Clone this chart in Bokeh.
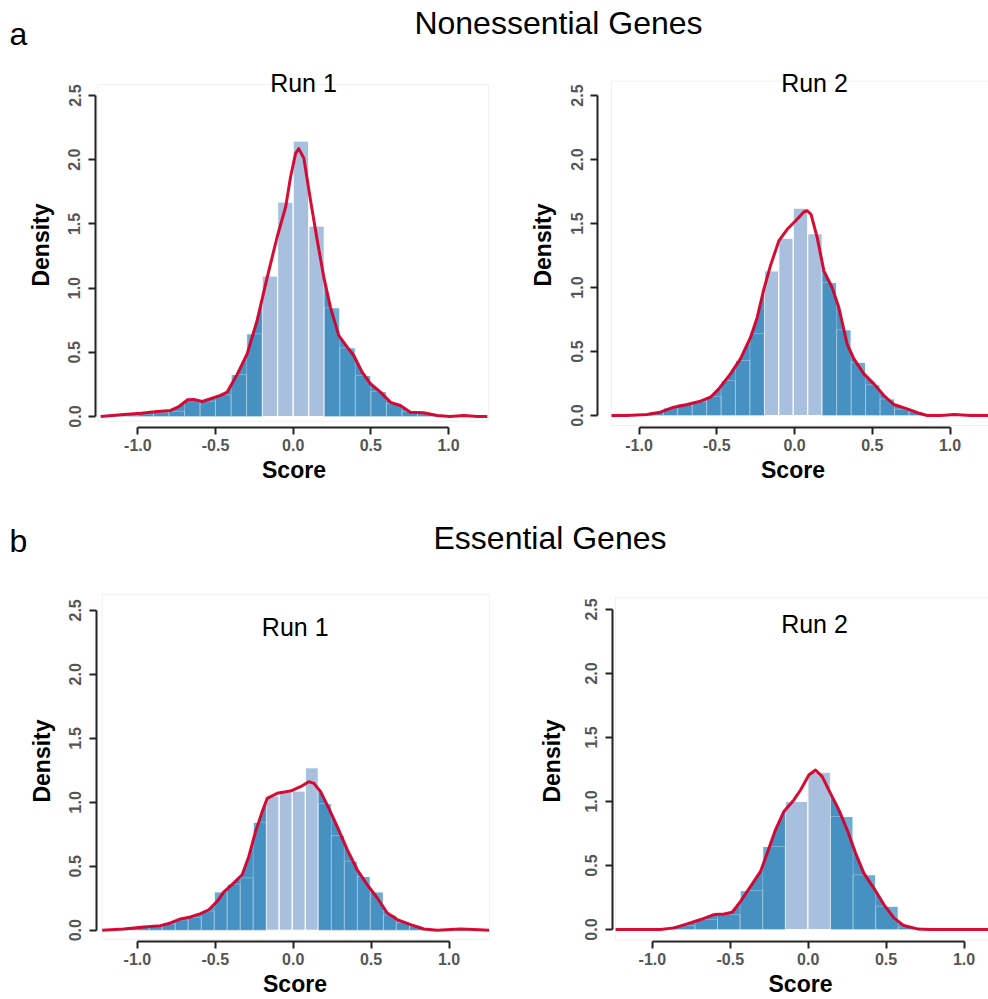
import numpy as np
from bokeh.plotting import figure
from bokeh.layouts import column, row
from bokeh.models import Range1d, FixedTicker, BoxAnnotation, Label, ColumnDataSource
from bokeh.embed import file_html
from bokeh.resources import INLINE

FONT = "Liberation Sans"

# ---------------- data ----------------
SECTION_A = "Nonessential Genes"
SECTION_B = "Essential Genes"
PANEL_TITLES = {"A1": "Run 1", "A2": "Run 2", "B1": "Run 1", "B2": "Run 2"}
X_LABEL = "Score"
Y_LABEL = "Density"
X_TICKS = [-1.0, -0.5, 0.0, 0.5, 1.0]
X_TICK_LABELS = ["-1.0", "-0.5", "0.0", "0.5", "1.0"]
Y_TICKS = [0.0, 0.5, 1.0, 1.5, 2.0, 2.5]
Y_TICK_LABELS = ["0.0", "0.5", "1.0", "1.5", "2.0", "2.5"]

# histogram bin edges and densities
A1_EDGES = [-1.2, -1.1, -1.0, -0.9, -0.8, -0.7, -0.6, -0.5, -0.4, -0.3, -0.2, -0.1,
            0.0, 0.1, 0.2, 0.3, 0.4, 0.5, 0.6, 0.7, 0.8, 0.9, 1.0]
A1_HEIGHTS = [0.005, 0.01, 0.02, 0.03, 0.04, 0.12, 0.12, 0.17, 0.327, 0.644, 1.094, 1.67,
              2.145, 1.483, 0.847, 0.535, 0.32, 0.195, 0.10, 0.04, 0.02, 0.01]
A1_LIGHT = (10, 13)

A2_EDGES = [-1.03, -0.937, -0.844, -0.751, -0.658, -0.565, -0.472, -0.38, -0.287, -0.194,
            -0.101, -0.008, 0.085, 0.178, 0.271, 0.364, 0.457, 0.55, 0.643, 0.736, 0.829]
A2_HEIGHTS = [0.01, 0.03, 0.06, 0.09, 0.11, 0.15, 0.273, 0.43, 0.64, 1.13, 1.385, 1.62,
              1.42, 1.04, 0.67, 0.416, 0.24, 0.13, 0.05, 0.03]
A2_LIGHT = (9, 12)

B1_EDGES = [-1.091, -1.008, -0.924, -0.841, -0.757, -0.674, -0.59, -0.507, -0.424, -0.34,
            -0.257, -0.173, -0.09, -0.006, 0.078, 0.161, 0.245, 0.328, 0.412, 0.495,
            0.579, 0.662, 0.746, 0.829, 0.913]
B1_HEIGHTS = [0.02, 0.03, 0.04, 0.05, 0.08, 0.10, 0.15, 0.30, 0.36, 0.41, 0.844, 1.049,
              1.075, 1.088, 1.27, 0.99, 0.74, 0.54, 0.42, 0.30, 0.12, 0.06, 0.03, 0.01]
B1_LIGHT = (11, 14)

B2_EDGES = [-1.017, -0.872, -0.727, -0.582, -0.437, -0.292, -0.147, -0.002, 0.143, 0.288,
            0.433, 0.578, 0.723, 0.868]
B2_HEIGHTS = [0.005, 0.03, 0.08, 0.117, 0.304, 0.649, 1.0, 1.228, 0.883, 0.428, 0.182,
              0.02, 0.005]
B2_LIGHT = (6, 7)

# density curves
A1_KDE_X = [-1.24, -1.09, -0.98, -0.876, -0.79, -0.736, -0.68, -0.64, -0.586, -0.532,
            -0.468, -0.425, -0.36, -0.296, -0.232, -0.167, -0.103, -0.049, -0.017, 0.015,
            0.036, 0.069, 0.112, 0.155, 0.197, 0.24, 0.294, 0.348, 0.39, 0.444, 0.498,
            0.562, 0.627, 0.69, 0.755, 0.84, 0.927, 1.01, 1.10, 1.185, 1.25]
A1_KDE_Y = [0.0, 0.016, 0.026, 0.039, 0.047, 0.078, 0.13, 0.132, 0.117, 0.138,
            0.164, 0.19, 0.33, 0.49, 0.75, 1.086, 1.40, 1.63, 1.865, 2.047,
            2.086, 2.01, 1.68, 1.37, 1.086, 0.85, 0.63, 0.54, 0.475, 0.345, 0.255,
            0.19, 0.11, 0.086, 0.034, 0.029, 0.008, 0.0, 0.008, 0.0, 0.0]

A2_KDE_X = [-1.178, -1.077, -0.948, -0.863, -0.777, -0.691, -0.605, -0.541, -0.487, -0.412,
            -0.348, -0.283, -0.24, -0.197, -0.155, -0.101, -0.047, 0.006, 0.06, 0.082,
            0.107, 0.146, 0.189, 0.242, 0.285, 0.339, 0.382, 0.446, 0.511, 0.575, 0.639,
            0.725, 0.80, 0.854, 0.94, 1.026, 1.133, 1.249]
A2_KDE_Y = [0.0, 0.0, 0.008, 0.026, 0.065, 0.086, 0.112, 0.143, 0.208, 0.325,
            0.442, 0.61, 0.766, 0.987, 1.169, 1.364, 1.455, 1.52, 1.59, 1.60,
            1.57, 1.39, 1.13, 1.0, 0.844, 0.558, 0.442, 0.325, 0.247, 0.156, 0.086,
            0.052, 0.018, 0.0, 0.0, 0.008, 0.0, 0.0]

B1_KDE_X = [-1.227, -1.088, -0.96, -0.852, -0.788, -0.724, -0.66, -0.595, -0.542, -0.488,
            -0.445, -0.381, -0.328, -0.285, -0.242, -0.199, -0.167, -0.103, -0.017, 0.047,
            0.10, 0.133, 0.176, 0.229, 0.283, 0.347, 0.411, 0.475, 0.54, 0.604, 0.668,
            0.754, 0.839, 0.925, 1.01, 1.075, 1.16, 1.257]
B1_KDE_Y = [0.0, 0.01, 0.026, 0.036, 0.057, 0.088, 0.104, 0.13, 0.16, 0.226,
            0.30, 0.37, 0.434, 0.577, 0.77, 0.927, 1.03, 1.07, 1.088, 1.122,
            1.161, 1.148, 1.083, 0.953, 0.81, 0.63, 0.473, 0.356, 0.252, 0.135, 0.083,
            0.044, 0.01, 0.0, 0.005, 0.01, 0.005, 0.0]

B2_KDE_X = [-1.237, -1.098, -0.948, -0.862, -0.777, -0.69, -0.605, -0.54, -0.488, -0.434,
            -0.37, -0.306, -0.263, -0.21, -0.156, -0.092, -0.049, 0.004, 0.047, 0.09,
            0.143, 0.197, 0.25, 0.304, 0.357, 0.421, 0.486, 0.55, 0.614, 0.70, 0.785,
            0.892, 0.978, 1.085, 1.157]
B2_KDE_Y = [0.0, 0.0, 0.0, 0.013, 0.044, 0.078, 0.117, 0.122, 0.135, 0.22,
            0.337, 0.454, 0.597, 0.779, 0.922, 1.012, 1.09, 1.207, 1.246, 1.194,
            1.064, 0.935, 0.779, 0.597, 0.441, 0.324, 0.195, 0.091, 0.031, 0.005, 0.0,
            0.0, 0.0, 0.0, 0.0]

# ---------------- styling / layout ----------------
LIGHT = "#a9bfde"
TAIL = "#6aaed6"
DARK = "#4690c2"
RED = "#d6002a"
AXIS = "#222222"

# page-pixel geometry: fig=(left, top, width, height); frame=(l, r, t, b);
# x0/y0: pixel of data 0; sx/sy: pixels per data unit; box=(l, r, t, b) light frame;
# title=(center x, vertical middle y); ylab = y-axis label standoff
GEOM = {
    "A1": dict(fig=(0, 62, 520, 438), frame=(95, 492, 62, 427), x0=292.7, sx=155.3,
               y0=416.0, sy=128.4, box=(97, 488, 84, 420.7), title=(303, 82.5), ylab=12),
    "A2": dict(fig=(520, 62, 468, 438), frame=(597, 988, 62, 427), x0=794.0, sx=155.5,
               y0=415.0, sy=128.0, box=(611, None, 80.7, 425), title=(814, 82.5), ylab=12),
    "B1": dict(fig=(0, 580, 520, 419), frame=(96, 493, 580, 942), x0=292.7, sx=155.8,
               y0=930.7, sy=128.3, box=(101.7, 489, 594, 940), title=(294.7, 627), ylab=12),
    "B2": dict(fig=(520, 580, 468, 419), frame=(612, 988, 580, 942), x0=807.7, sx=155.8,
               y0=930.0, sy=128.4, box=(615, None, 597.3, 940.7), title=(814, 624), ylab=18),
}

DATA = {
    "A1": (A1_EDGES, A1_HEIGHTS, A1_LIGHT, A1_KDE_X, A1_KDE_Y),
    "A2": (A2_EDGES, A2_HEIGHTS, A2_LIGHT, A2_KDE_X, A2_KDE_Y),
    "B1": (B1_EDGES, B1_HEIGHTS, B1_LIGHT, B1_KDE_X, B1_KDE_Y),
    "B2": (B2_EDGES, B2_HEIGHTS, B2_LIGHT, B2_KDE_X, B2_KDE_Y),
}


def make_panel(key):
    g = GEOM[key]
    edges, heights, light, kx, ky = DATA[key]
    fl, ft, fw, fh = g["fig"]
    l, r, t, b = g["frame"]
    x0, sx, y0, sy = g["x0"], g["sx"], g["y0"], g["sy"]
    px2x = lambda px: (px - x0) / sx
    py2y = lambda py: (y0 - py) / sy
    xs, xe = px2x(l), px2x(r)
    ys, ye = py2y(b), py2y(t)

    p = figure(width=fw, height=fh, x_range=Range1d(xs, xe), y_range=Range1d(ys, ye),
               toolbar_location=None, output_backend="svg",
               min_border_left=int(l - fl), min_border_right=int(fl + fw - r),
               min_border_top=int(t - ft), min_border_bottom=int(ft + fh - b),
               outline_line_color=None, background_fill_color="white",
               border_fill_color="white")
    p.xgrid.visible = False
    p.ygrid.visible = False

    # bars
    lefts = edges[:-1]
    rights = edges[1:]
    colors = [LIGHT if light[0] <= i <= light[1] else TAIL for i in range(len(heights))]
    src = ColumnDataSource(dict(left=lefts, right=rights, top=heights, color=colors))
    p.quad(left="left", right="right", top="top", bottom=0, fill_color="color",
           line_color="white", line_width=1, source=src)

    # dark fill under density outside the central bins
    kx_a = np.array(kx)
    ky_a = np.array(ky)
    L = edges[light[0]]
    R = edges[light[1] + 1]
    mask_l = kx_a < L
    xl = list(kx_a[mask_l]) + [L]
    yl = list(ky_a[mask_l]) + [float(np.interp(L, kx_a, ky_a))]
    mask_r = kx_a > R
    xr = [R] + list(kx_a[mask_r])
    yr = [float(np.interp(R, kx_a, ky_a))] + list(ky_a[mask_r])
    p.varea(x=xl, y1=[0] * len(xl), y2=yl, fill_color=DARK)
    p.varea(x=xr, y1=[0] * len(xr), y2=yr, fill_color=DARK)

    # faint bar edges over fill
    p.quad(left="left", right="right", top="top", bottom=0, fill_color=None,
           line_color="white", line_alpha=0.3, line_width=1, source=src)

    # density curve
    p.line(kx, ky, line_color=RED, line_width=3, line_join="round", line_alpha=0.95)

    # light frame box
    bl, br, bt, bb = g["box"]
    box = BoxAnnotation(left=px2x(bl), right=(px2x(br) if br is not None else xe + 1.0),
                        top=py2y(bt), bottom=py2y(bb), fill_color=None, fill_alpha=0,
                        line_color="#cfcfcf", line_width=1)
    p.add_layout(box)

    # run title
    tcx, tmy = g["title"]
    p.add_layout(Label(x=px2x(tcx), y=py2y(tmy), text=PANEL_TITLES[key],
                       text_align="center", text_baseline="middle",
                       text_font=FONT, text_font_size="25px", text_color="black"))

    # axes
    for ax, ticks, labels, bounds in ((p.xaxis, X_TICKS, X_TICK_LABELS, (-1.0, 1.0)),
                                      (p.yaxis, Y_TICKS, Y_TICK_LABELS, (0.0, 2.5))):
        ax.ticker = FixedTicker(ticks=ticks)
        ax.major_label_overrides = {tk: lb for tk, lb in zip(ticks, labels)}
        ax.bounds = bounds
        ax.axis_line_color = AXIS
        ax.axis_line_width = 2
        ax.major_tick_line_color = AXIS
        ax.major_tick_line_width = 2
        ax.major_tick_out = 7
        ax.major_tick_in = 0
        ax.minor_tick_line_color = None
        ax.major_label_text_font = FONT
        ax.major_label_text_font_style = "bold"
        ax.major_label_text_font_size = "16px"
        ax.major_label_text_color = "#555555"
        ax.axis_label_text_font = FONT
        ax.axis_label_text_font_style = "bold"
        ax.axis_label_text_font_size = "23px"
        ax.axis_label_text_color = "black"
    p.xaxis.axis_label = X_LABEL
    p.yaxis.axis_label = Y_LABEL
    p.xaxis.major_label_standoff = 4
    p.xaxis.axis_label_standoff = 3
    p.yaxis.major_label_standoff = 8
    p.yaxis.axis_label_standoff = g["ylab"]
    p.yaxis.major_label_orientation = "vertical"
    return p


def make_header(height, items):
    p = figure(width=988, height=height, x_range=Range1d(0, 988), y_range=Range1d(height, 0),
               x_axis_type=None, y_axis_type=None, toolbar_location=None,
               output_backend="svg", min_border=0, outline_line_color=None)
    for txt, x, y, align in items:
        p.add_layout(Label(x=x, y=y, text=txt, text_align=align, text_baseline="middle",
                           text_font=FONT, text_font_size="32px", text_color="black"))
    return p


# header texts: (text, x, vertical middle y, align) in header pixels
head_a = make_header(62, [("a", 9, 33, "left"), (SECTION_A, 558, 22.5, "center")])
head_b = make_header(80, [("b", 9, 40.5, "left"), (SECTION_B, 549.5, 37.5, "center")])

layout = column(head_a,
                row(make_panel("A1"), make_panel("A2")),
                head_b,
                row(make_panel("B1"), make_panel("B2")))

open("out.html", "w").write(file_html(layout, INLINE))
